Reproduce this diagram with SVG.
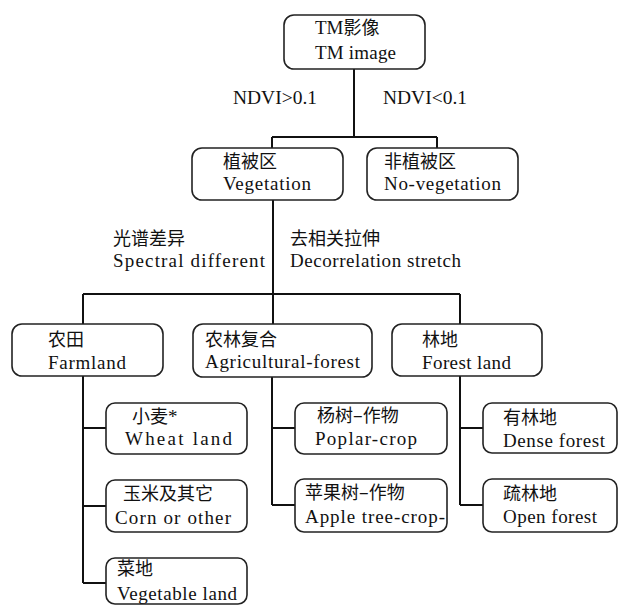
<svg xmlns="http://www.w3.org/2000/svg" width="619" height="606" viewBox="0 0 619 606">
<style>
.box{fill:#fff;stroke:#222;stroke-width:1.6}
.ln{fill:none;stroke:#111;stroke-width:2}
.en{font-family:"Liberation Serif","Times New Roman",serif;font-size:19px;fill:#111}
.zh{font-family:"Noto Sans CJK SC","Liberation Serif",sans-serif;font-size:18px;fill:#111}
</style>
<rect width="619" height="606" fill="#fff"/>
<g id="connectors">
<path class="ln" d="M354 69V137M272 137H437M272 137V148M437 137V148"/>
<path class="ln" d="M273 200V294M83 294H460M83 294V324M273 294V324M460 294V324"/>
<path class="ln" d="M83 376V583M83 428H106M83 506H106M83 583H106"/>
<path class="ln" d="M272 377V505M272 428H295M272 505H295"/>
<path class="ln" d="M460 376V505M460 428H483M460 505H483"/>
</g>
<g id="labels">
<text class="en" x="233" y="104" textLength="84" lengthAdjust="spacingAndGlyphs">NDVI&gt;0.1</text>
<text class="en" x="383" y="104" textLength="84" lengthAdjust="spacingAndGlyphs">NDVI&lt;0.1</text>
<text class="zh" x="113" y="245">光谱差异</text>
<text class="en" x="113" y="267" textLength="152">Spectral different</text>
<text class="zh" x="290" y="245">去相关拉伸</text>
<text class="en" x="290" y="267" textLength="171">Decorrelation stretch</text>
</g>
<g id="tm">
<rect class="box" x="284" y="15" width="141" height="54" rx="10"/>
<text class="zh" x="315" y="34"><tspan class="en">TM</tspan>影像</text>
<text class="en" x="315" y="59" textLength="81">TM image</text>
</g>
<g id="vegetation">
<rect class="box" x="192" y="148" width="151" height="52" rx="10"/>
<text class="zh" x="223" y="168">植被区</text>
<text class="en" x="223" y="190" textLength="88">Vegetation</text>
</g>
<g id="novegetation">
<rect class="box" x="367" y="148" width="151" height="52" rx="10"/>
<text class="zh" x="384" y="168">非植被区</text>
<text class="en" x="384" y="190" textLength="117">No-vegetation</text>
</g>
<g id="farmland">
<rect class="box" x="12" y="324" width="151" height="52" rx="10"/>
<text class="zh" x="48" y="346">农田</text>
<text class="en" x="48" y="369" textLength="78">Farmland</text>
</g>
<g id="agriforest">
<rect class="box" x="193" y="324" width="179" height="53" rx="10"/>
<text class="zh" x="205" y="346">农林复合</text>
<text class="en" x="205" y="368" textLength="155">Agricultural-forest</text>
</g>
<g id="forestland">
<rect class="box" x="392" y="324" width="150" height="52" rx="10"/>
<text class="zh" x="422" y="346">林地</text>
<text class="en" x="422" y="369" textLength="89">Forest land</text>
</g>
<g id="wheat">
<rect class="box" x="106" y="403" width="141" height="51" rx="9"/>
<text class="zh" x="132" y="423">小麦<tspan class="en">*</tspan></text>
<text class="en" x="125" y="445" textLength="107">Wheat land</text>
</g>
<g id="corn">
<rect class="box" x="106" y="480" width="141" height="52" rx="9"/>
<text class="zh" x="123" y="500">玉米及其它</text>
<text class="en" x="115" y="524" textLength="116">Corn or other</text>
</g>
<g id="vegetable">
<rect class="box" x="106" y="558" width="141" height="46" rx="9"/>
<text class="zh" x="117" y="575">菜地</text>
<text class="en" x="117" y="600" textLength="120">Vegetable land</text>
</g>
<g id="poplar">
<rect class="box" x="295" y="403" width="152" height="51" rx="9"/>
<text class="zh" x="317" y="422">杨树–作物</text>
<text class="en" x="315" y="445" textLength="102">Poplar-crop</text>
</g>
<g id="apple">
<rect class="box" x="295" y="479" width="152" height="53" rx="9"/>
<text class="zh" x="305" y="499">苹果树–作物</text>
<text class="en" x="305" y="523" textLength="140">Apple tree-crop-</text>
</g>
<g id="dense">
<rect class="box" x="483" y="403" width="134" height="50" rx="9"/>
<text class="zh" x="503" y="424">有林地</text>
<text class="en" x="503" y="447" textLength="102">Dense forest</text>
</g>
<g id="open">
<rect class="box" x="483" y="479" width="134" height="53" rx="9"/>
<text class="zh" x="503" y="500">疏林地</text>
<text class="en" x="503" y="523" textLength="94">Open forest</text>
</g>
</svg>
